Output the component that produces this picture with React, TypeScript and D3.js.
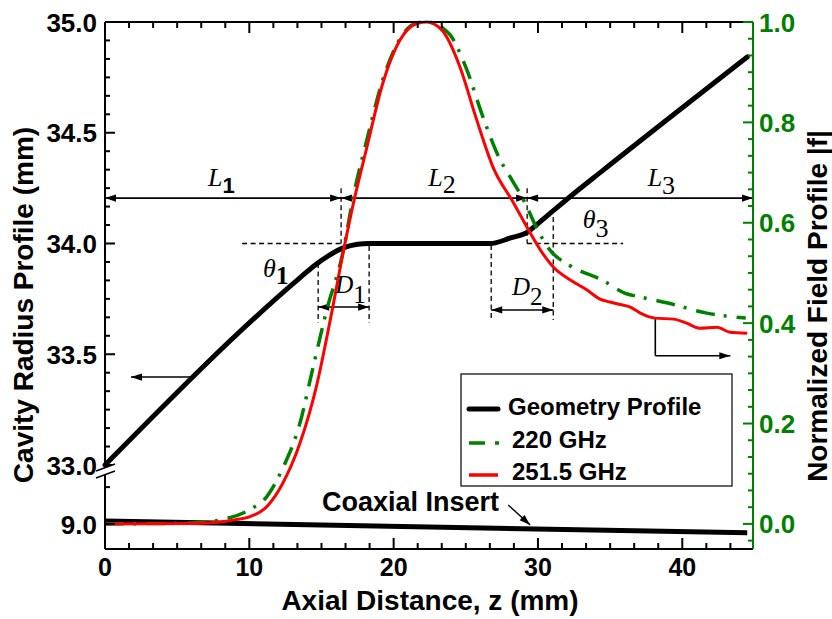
import React from "react";
import * as d3 from "d3";

// ---------------- data ----------------
const xTicksMajor = [0, 10, 20, 30, 40];
const leftUpperTicksMajor = [33.0, 33.5, 34.0, 34.5, 35.0];
const leftLowerTicksMajor = [9.0];
const leftLowerTicksMinor = [9.1667];
const rightTicksMajor = [0.0, 0.2, 0.4, 0.6, 0.8, 1.0];

// Geometry profile (cavity radius, mm) vs axial distance z (mm)
const geoZ = [0, 13.5, 14.5, 15.5, 16.5, 17.5, 18.3, 26.7, 28.1, 29.25, 30.0, 31.0, 32.2, 34.5, 44.5];
const geoR = [33.0, 33.845, 33.9, 33.945, 33.98, 33.997, 34.0, 34.0, 34.025, 34.05, 34.09, 34.145, 34.21, 34.33, 34.842];

// Coaxial insert radius (lower broken segment)
const coaxZ = [0, 44.5];
const coaxR = [9.0135, 8.96];

// Normalized field profile |f| at 220 GHz
const f220Z = [0, 6, 8, 10, 11.2, 12.3, 13.5, 14.4, 15.4, 16.4, 17.3, 18.1, 19.25, 20.4, 21.6, 22.3, 23.4, 23.9, 25.0, 26.2, 27.3, 28.1, 29.1, 29.9, 30.85, 32.2, 34.5, 36.0, 37.1, 39.0, 41.7, 44.4];
const f220 = [0, 0.002, 0.008, 0.028, 0.054, 0.11, 0.2, 0.31, 0.43, 0.53, 0.665, 0.76, 0.885, 0.965, 0.998, 1.0, 0.988, 0.975, 0.91, 0.81, 0.73, 0.69, 0.64, 0.59, 0.545, 0.515, 0.485, 0.46, 0.452, 0.44, 0.42, 0.41];

// Normalized field profile |f| at 251.5 GHz
const f2515Z = [0, 6, 8, 9, 10, 11.2, 12.3, 13.5, 14.7, 15.6, 16.6, 17.3, 18.1, 19.25, 20.4, 21.6, 22.3, 23.4, 24.6, 25.7, 26.9, 28.3, 29.46, 30.3, 31.06, 32.3, 33.4, 34.3, 35.0, 35.7, 36.4, 37.1, 38.1, 39.4, 40.3, 41.2, 42.4, 43.3, 44.5];
const f2515 = [0, 0.001, 0.004, 0.008, 0.014, 0.034, 0.08, 0.16, 0.28, 0.405, 0.555, 0.65, 0.745, 0.878, 0.962, 0.997, 1.0, 0.982, 0.91, 0.81, 0.71, 0.64, 0.58, 0.54, 0.512, 0.485, 0.466, 0.448, 0.442, 0.437, 0.432, 0.42, 0.41, 0.408, 0.4, 0.39, 0.392, 0.382, 0.38];

const legendLabels = ["Geometry Profile", "220 GHz", "251.5 GHz"];

// ---------------- layout ----------------
const W = 832, H = 619;
const X0 = 105, X1 = 753, Y0 = 22, Y1 = 549;
const GREEN = "#008000";
const RED = "#ff0000";
const SANS = "'Liberation Sans', Arial, Helvetica, sans-serif";
const SERIF = "'Liberation Serif', 'Times New Roman', Times, serif";

const x = d3.scaleLinear().domain([0, 44.9]).range([X0, X1]);
const yU = d3.scaleLinear().domain([33, 35]).range([465, Y0]);
const yL = d3.scaleLinear().domain([8.887, 9.0]).range([Y1, 524]);
const yF = d3.scaleLinear().domain([-0.05, 1.0]).range([Y1, Y0]);

function arrowHead(x1: number, y1: number, x2: number, y2: number, len = 11, w = 3.6) {
  const a = Math.atan2(y2 - y1, x2 - x1);
  const bx = x2 - len * Math.cos(a), by = y2 - len * Math.sin(a);
  const px = -Math.sin(a) * w, py = Math.cos(a) * w;
  return `${x2},${y2} ${bx + px},${by + py} ${bx - px},${by - py}`;
}

function Arrow({ x1, y1, x2, y2, both = false, sw = 1.6 }: any) {
  return (
    <g>
      <line x1={x1} y1={y1} x2={x2} y2={y2} stroke="#000" strokeWidth={sw} />
      <polygon points={arrowHead(x1, y1, x2, y2)} fill="#000" />
      {both && <polygon points={arrowHead(x2, y2, x1, y1)} fill="#000" />}
    </g>
  );
}

export default function App() {
  const geoLine = d3.line<number>().x((_, i) => x(geoZ[i])).y((_, i) => yU(geoR[i])).curve(d3.curveMonotoneX);
  const coaxLine = d3.line<number>().x((_, i) => x(coaxZ[i])).y((_, i) => yL(coaxR[i]));
  const f220Line = d3.line<number>().x((_, i) => x(f220Z[i])).y((_, i) => yF(f220[i])).curve(d3.curveMonotoneX);
  const f2515Line = d3.line<number>().x((_, i) => x(f2515Z[i])).y((_, i) => yF(f2515[i])).curve(d3.curveMonotoneX);

  const xMinor = d3.range(0, 44.9, 10 / 6).filter((v) => Math.abs(v / 10 - Math.round(v / 10)) > 1e-6);
  const yUMinor = d3.range(0, 25).map((k) => 33 + k / 12).filter((v) => Math.abs(v * 2 - Math.round(v * 2)) > 1e-6);
  const fMinor = d3.range(-1, 31).map((k) => k / 30).filter((v) => Math.abs(v * 5 - Math.round(v * 5)) > 1e-6);

  const dash = "5,3.5";
  const bY = yU(33);

  // annotations (in data units)
  const divZ = [16.36, 29.25];
  const lR = 34.205;
  const divTopR = 34.25;
  const d1 = { z: [14.77, 18.3], top: [33.912, 33.989], bottom: 33.641, arrow: 33.713 };
  const d2 = { z: [26.76, 31.06], top: [33.993, 34.12], bottom: 33.655, arrow: 33.70 };

  const tickFont = { fontFamily: SANS, fontWeight: "bold" as const, fontSize: 26 };

  return (
    <svg width={W} height={H} style={{ position: "absolute", left: 0, top: 0, background: "#fff" }}>
      <rect x={0} y={0} width={W} height={H} fill="#fff" />

      {/* dashed reference lines */}
      <g stroke="#000" strokeWidth={1.3} strokeDasharray={dash} fill="none">
        <line x1={x(9.5)} y1={yU(34)} x2={x(divZ[0])} y2={yU(34)} />
        <line x1={x(divZ[1])} y1={yU(34)} x2={x(35.9)} y2={yU(34)} />
        {divZ.map((z, i) => (
          <line key={i} x1={x(z)} y1={yU(divTopR)} x2={x(z)} y2={yU(34)} />
        ))}
        <line x1={x(d1.z[0])} y1={yU(d1.top[0])} x2={x(d1.z[0])} y2={yU(d1.bottom)} />
        <line x1={x(d1.z[1])} y1={yU(d1.top[1])} x2={x(d1.z[1])} y2={yU(d1.bottom)} />
        <line x1={x(d2.z[0])} y1={yU(d2.top[0])} x2={x(d2.z[0])} y2={yU(d2.bottom)} />
        <line x1={x(d2.z[1])} y1={yU(d2.top[1])} x2={x(d2.z[1])} y2={yU(d2.bottom)} />
      </g>

      {/* L arrows */}
      <Arrow x1={x(divZ[0])} y1={yU(lR)} x2={X0} y2={yU(lR)} both />
      <Arrow x1={x(divZ[0])} y1={yU(lR)} x2={x(divZ[1])} y2={yU(lR)} both />
      <Arrow x1={x(divZ[1])} y1={yU(lR)} x2={X1} y2={yU(lR)} both />
      {/* D arrows */}
      <Arrow x1={x(d1.z[0])} y1={yU(d1.arrow)} x2={x(d1.z[1])} y2={yU(d1.arrow)} both />
      <Arrow x1={x(d2.z[0])} y1={yU(d2.arrow)} x2={x(d2.z[1])} y2={yU(d2.arrow)} both />

      {/* left / right axis pointer arrows */}
      <Arrow x1={x(5.9)} y1={yU(33.397)} x2={x(1.8)} y2={yU(33.397)} />
      <line x1={x(38.13)} y1={yF(0.41)} x2={x(38.13)} y2={yF(0.335)} stroke="#000" strokeWidth={1.6} />
      <Arrow x1={x(38.13)} y1={yF(0.335)} x2={x(43.33)} y2={yF(0.335)} />
      {/* coaxial insert arrow */}
      <Arrow x1={x(27.94)} y1={yL(9.086)} x2={x(29.46)} y2={yL(8.995)} sw={1.4} />

      {/* curves */}
      <path d={coaxLine(coaxZ) || ""} fill="none" stroke="#000" strokeWidth={5} />
      <path d={geoLine(geoZ) || ""} fill="none" stroke="#000" strokeWidth={5} strokeLinecap="round" />
      <path d={f220Line(f220Z) || ""} fill="none" stroke={GREEN} strokeWidth={3.5} strokeDasharray="19,9,3,10" />
      <path d={f2515Line(f2515Z) || ""} fill="none" stroke={RED} strokeWidth={3} />

      {/* annotation labels */}
      <g fontFamily={SERIF} fontStyle="italic" fontSize={26}>
        <text x={x(7.14)} y={yU(34.26)}>L<tspan fontFamily={SANS} fontStyle="normal" fontWeight="bold" fontSize={22} dy={7}>1</tspan></text>
        <text x={x(22.4)} y={yU(34.26)}>L<tspan fontStyle="normal" fontSize={26} dy={7}>2</tspan></text>
        <text x={x(37.6)} y={yU(34.26)}>L<tspan fontStyle="normal" fontSize={26} dy={8}>3</tspan></text>
        <text x={x(10.95)} y={yU(33.849)}>θ<tspan fontStyle="normal" fontWeight="bold" fontSize={26} dy={7}>1</tspan></text>
        <text x={x(33.1)} y={yU(34.07)}>θ<tspan fontStyle="normal" fontSize={26} dy={9}>3</tspan></text>
        <text x={x(15.95)} y={yU(33.777)} fontSize={25}>D<tspan fontStyle="normal" fontSize={25} dy={10}>1</tspan></text>
        <text x={x(28.2)} y={yU(33.768)} fontSize={25}>D<tspan fontStyle="normal" fontSize={25} dy={10}>2</tspan></text>
      </g>
      <text x={x(15.04)} y={yL(9.058)} fontFamily={SANS} fontWeight="bold" fontSize={27}>Coaxial Insert</text>

      {/* legend */}
      <g>
        <rect x={461} y={374} width={271} height={112} fill="#fff" stroke="#000" strokeWidth={1.2} />
        <line x1={469} x2={498} y1={409} y2={409} stroke="#000" strokeWidth={5} strokeLinecap="round" />
        <line x1={469} x2={500} y1={443} y2={443} stroke={GREEN} strokeWidth={3.5} strokeDasharray="16,10,4,10" />
        <line x1={469} x2={498} y1={475} y2={475} stroke={RED} strokeWidth={3.5} />
        <g fontFamily={SANS} fontWeight="bold" fontSize={24}>
          <text x={508} y={415}>{legendLabels[0]}</text>
          <text x={512} y={448}>{legendLabels[1]}</text>
          <text x={512} y={480}>{legendLabels[2]}</text>
        </g>
      </g>

      {/* axes frame */}
      <g stroke="#000" strokeWidth={2} fill="none">
        <line x1={X0} y1={Y1} x2={X1} y2={Y1} />
        <line x1={X0} y1={Y0} x2={X1} y2={Y0} />
        <line x1={X0} y1={Y0} x2={X0} y2={Y1} />
        {xTicksMajor.map((v) => (
          <g key={"xm" + v}>
            <line x1={x(v)} x2={x(v)} y1={Y1} y2={Y1 - 11} />
            <line x1={x(v)} x2={x(v)} y1={Y0} y2={Y0 + 11} />
          </g>
        ))}
        {xMinor.map((v, i) => (
          <g key={"xn" + i}>
            <line x1={x(v)} x2={x(v)} y1={Y1} y2={Y1 - 6} />
            <line x1={x(v)} x2={x(v)} y1={Y0} y2={Y0 + 6} />
          </g>
        ))}
        {leftUpperTicksMajor.map((v) => (
          <line key={"lu" + v} x1={X0} x2={X0 + 10} y1={yU(v)} y2={yU(v)} />
        ))}
        {yUMinor.map((v, i) => (
          <line key={"lun" + i} x1={X0} x2={X0 + 5} y1={yU(v)} y2={yU(v)} />
        ))}
        {leftLowerTicksMajor.map((v) => (
          <line key={"ll" + v} x1={X0} x2={X0 + 10} y1={yL(v)} y2={yL(v)} />
        ))}
        {leftLowerTicksMinor.map((v, i) => (
          <line key={"lln" + i} x1={X0} x2={X0 + 5} y1={yL(v)} y2={yL(v)} />
        ))}
      </g>

      {/* right (green) axis */}
      <g stroke={GREEN} strokeWidth={2} fill="none">
        <line x1={X1} y1={Y0} x2={X1} y2={Y1} />
        {rightTicksMajor.map((v) => (
          <line key={"rm" + v} x1={X1} x2={X1 - 10} y1={yF(v)} y2={yF(v)} />
        ))}
        {fMinor.map((v, i) => (
          <line key={"rn" + i} x1={X1} x2={X1 - 5} y1={yF(v)} y2={yF(v)} />
        ))}
      </g>

      {/* axis break */}
      <polygon points={`${X0 - 9},${bY + 6} ${X0 + 10},${bY - 1} ${X0 + 10},${bY + 6} ${X0 - 9},${bY + 13}`} fill="#fff" />
      <line x1={X0 - 9} y1={bY + 6} x2={X0 + 10} y2={bY - 1} stroke="#000" strokeWidth={1.5} />
      <line x1={X0 - 9} y1={bY + 13} x2={X0 + 10} y2={bY + 6} stroke="#000" strokeWidth={1.5} />

      {/* tick labels */}
      <g {...tickFont} textAnchor="middle">
        {xTicksMajor.map((v) => (
          <text key={"xt" + v} x={x(v)} y={576} fontSize={25}>{v}</text>
        ))}
      </g>
      <g {...tickFont} textAnchor="end">
        {leftUpperTicksMajor.map((v) => (
          <text key={"lt" + v} x={97} y={yU(v) + 9.5}>{v.toFixed(1)}</text>
        ))}
        {leftLowerTicksMajor.map((v) => (
          <text key={"llt" + v} x={97} y={yL(v) + 9.5}>{v.toFixed(1)}</text>
        ))}
      </g>
      <g {...tickFont} fill={GREEN} textAnchor="start">
        {rightTicksMajor.map((v) => (
          <text key={"rt" + v} x={759} y={yF(v) + 9.5}>{v.toFixed(1)}</text>
        ))}
      </g>

      {/* axis titles */}
      <g fontFamily={SANS} fontWeight="bold" fontSize={28}>
        <text x={430} y={610} textAnchor="middle">Axial Distance, z (mm)</text>
        <text transform={`translate(33,305) rotate(-90)`} textAnchor="middle">Cavity Radius Profile (mm)</text>
        <text transform={`translate(827,306) rotate(-90)`} textAnchor="middle">Normalized Field Profile |f|</text>
      </g>
    </svg>
  );
}
